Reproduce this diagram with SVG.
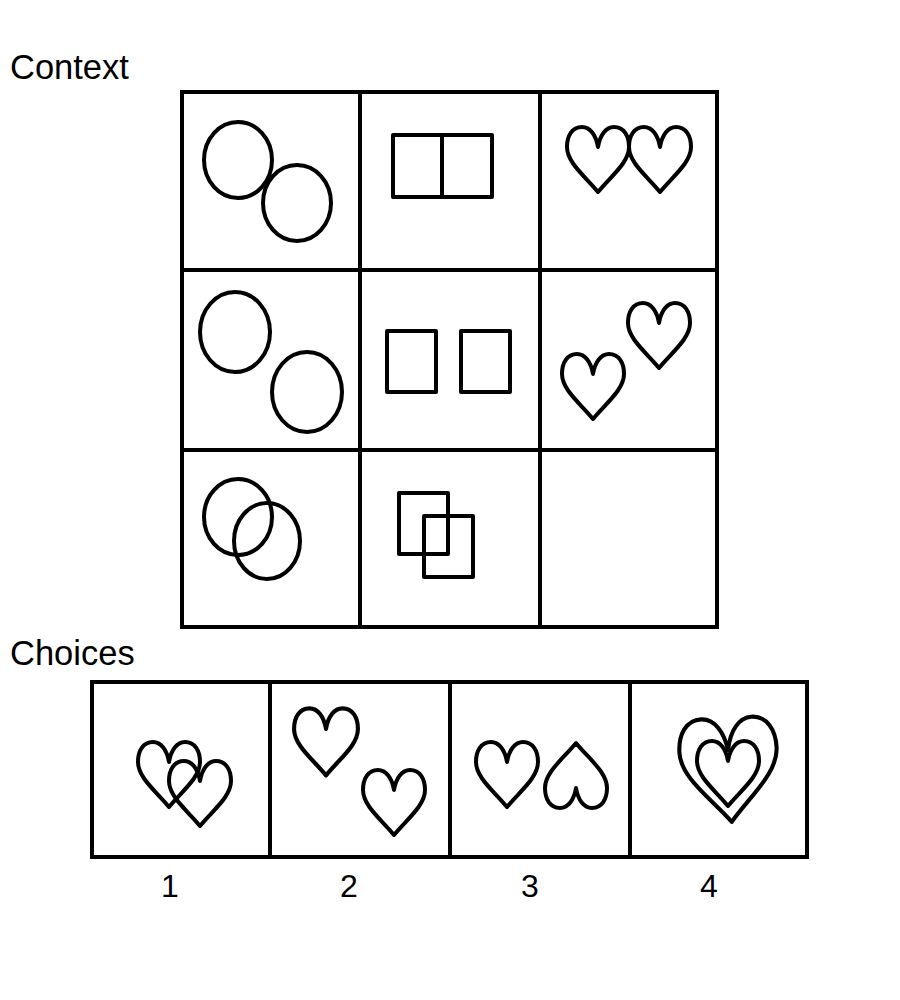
<svg xmlns="http://www.w3.org/2000/svg" width="900" height="1000" viewBox="0 0 900 1000">
<style>
.lbl{font-family:"Liberation Sans",Arial,sans-serif;font-size:34.5px;fill:#000}
.num{font-family:"Liberation Sans",Arial,sans-serif;font-size:32px;fill:#000;text-anchor:middle}
.frame{fill:none;stroke:#000;stroke-width:4}
.sh{fill:none;stroke:#000;stroke-width:4;stroke-linejoin:round}
</style>
<defs>
<path id="heart" d="M0,0 C-2,-12 -8,-20 -16,-20 C-26,-20 -31,-11 -31,0 C-31,16 -12,30 0,45 C12,30 31,16 31,0 C31,-11 26,-20 16,-20 C8,-20 2,-12 0,0 Z"/>
</defs>
<rect width="900" height="1000" fill="#fff"/>
<text class="lbl" x="10" y="79">Context</text>
<text class="lbl" x="10" y="665">Choices</text>
<g id="context-grid">
<rect class="frame" x="182" y="92" width="535" height="535"/>
<line class="frame" x1="360" y1="92" x2="360" y2="627"/>
<line class="frame" x1="540" y1="92" x2="540" y2="627"/>
<line class="frame" x1="182" y1="270" x2="717" y2="270"/>
<line class="frame" x1="182" y1="450" x2="717" y2="450"/>
</g>
<g id="cell-1-1">
<ellipse class="sh" cx="238" cy="160" rx="34" ry="38"/>
<ellipse class="sh" cx="297" cy="203" rx="34" ry="38"/>
</g>
<g id="cell-1-2">
<rect class="sh" x="393" y="135" width="49" height="62"/>
<rect class="sh" x="442" y="135" width="50" height="62"/>
</g>
<g id="cell-1-3">
<use href="#heart" class="sh" x="598" y="147"/>
<use href="#heart" class="sh" x="660" y="147"/>
</g>
<g id="cell-2-1">
<ellipse class="sh" cx="235" cy="332" rx="35" ry="40"/>
<ellipse class="sh" cx="307" cy="392" rx="35" ry="40"/>
</g>
<g id="cell-2-2">
<rect class="sh" x="387" y="331" width="49" height="61"/>
<rect class="sh" x="461" y="331" width="49" height="61"/>
</g>
<g id="cell-2-3">
<use href="#heart" class="sh" x="659" y="323"/>
<use href="#heart" class="sh" x="593" y="374"/>
</g>
<g id="cell-3-1">
<ellipse class="sh" cx="238" cy="517" rx="34" ry="38"/>
<ellipse class="sh" cx="267" cy="541" rx="33" ry="38"/>
</g>
<g id="cell-3-2">
<rect class="sh" x="399" y="493" width="49" height="61"/>
<rect class="sh" x="424" y="516" width="49" height="61"/>
</g>
<g id="choices-frame">
<rect class="frame" x="92" y="682" width="715" height="175"/>
<line class="frame" x1="270" y1="682" x2="270" y2="857"/>
<line class="frame" x1="450" y1="682" x2="450" y2="857"/>
<line class="frame" x1="630" y1="682" x2="630" y2="857"/>
</g>
<g id="choice-1">
<use href="#heart" class="sh" x="169" y="762"/>
<use href="#heart" class="sh" x="200" y="781"/>
</g>
<g id="choice-2">
<g transform="translate(326,729) scale(1.03)"><use href="#heart" class="sh"/></g>
<use href="#heart" class="sh" x="394" y="790"/>
</g>
<g id="choice-3">
<use href="#heart" class="sh" x="507" y="762"/>
<g transform="translate(576,788) rotate(180)"><use href="#heart" class="sh"/></g>
</g>
<g id="choice-4">
<g transform="translate(728,750) rotate(-3) scale(1.57,1.6)"><use href="#heart" fill="none" stroke="#000" stroke-width="2.6" stroke-linejoin="round"/></g>
<use href="#heart" class="sh" x="728" y="761"/>
</g>
<text class="num" x="170" y="897">1</text>
<text class="num" x="349" y="897">2</text>
<text class="num" x="530" y="897">3</text>
<text class="num" x="709" y="897">4</text>
</svg>
